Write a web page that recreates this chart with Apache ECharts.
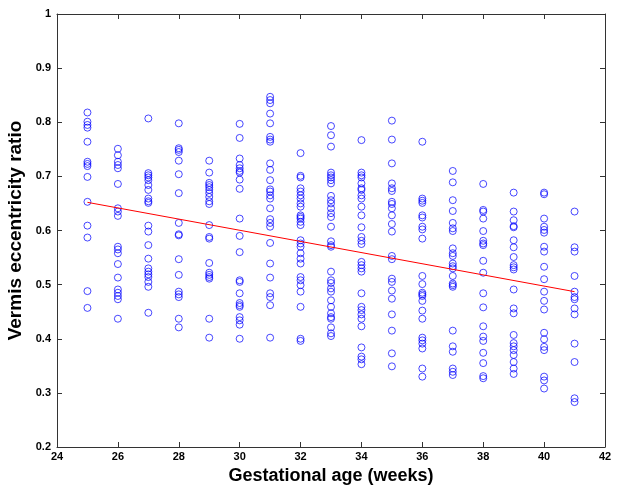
<!DOCTYPE html>
<html>
<head>
<meta charset="utf-8">
<script src="https://cdn.jsdelivr.net/npm/echarts@6/dist/echarts.min.js"></script>
<style>
  html, body { margin: 0; padding: 0; background: #fff; }
  #chart { width: 618px; height: 488px; }
</style>
</head>
<body>
<div id="chart"></div>
<script>
// gestational weeks (x) and the ratios
const weeks = [25, 26, 27, 28, 29, 30, 31, 32, 33, 34, 35, 36, 37, 38, 39, 40, 41];

const w25 = [0.818, 0.801, 0.795, 0.790, 0.764, 0.727, 0.723, 0.719, 0.699, 0.653, 0.609, 0.587, 0.488, 0.457];
const w26 = [0.751, 0.739, 0.727, 0.721, 0.715, 0.686, 0.641, 0.635, 0.627, 0.570, 0.565, 0.558, 0.538, 0.513, 0.491, 0.485, 0.479, 0.473, 0.437];
const w27 = [0.807, 0.706, 0.702, 0.698, 0.693, 0.684, 0.675, 0.659, 0.654, 0.651, 0.609, 0.598, 0.573, 0.548, 0.530, 0.524, 0.519, 0.514, 0.505, 0.496, 0.448];
const w28 = [0.798, 0.752, 0.749, 0.745, 0.729, 0.704, 0.669, 0.614, 0.593, 0.591, 0.547, 0.518, 0.487, 0.482, 0.477, 0.437, 0.421];
const w29 = [0.729, 0.707, 0.688, 0.684, 0.680, 0.675, 0.669, 0.662, 0.654, 0.649, 0.610, 0.588, 0.585, 0.540, 0.522, 0.518, 0.514, 0.511, 0.437, 0.402];
const w30 = [0.797, 0.771, 0.733, 0.721, 0.715, 0.710, 0.707, 0.694, 0.677, 0.622, 0.590, 0.560, 0.508, 0.505, 0.484, 0.466, 0.462, 0.459, 0.440, 0.434, 0.426, 0.400];
const w31 = [0.847, 0.841, 0.835, 0.816, 0.798, 0.773, 0.768, 0.764, 0.724, 0.712, 0.693, 0.676, 0.672, 0.665, 0.659, 0.641, 0.621, 0.614, 0.607, 0.577, 0.539, 0.513, 0.484, 0.477, 0.462, 0.402];
const w32 = [0.743, 0.701, 0.698, 0.678, 0.672, 0.665, 0.659, 0.650, 0.644, 0.628, 0.625, 0.622, 0.616, 0.610, 0.582, 0.576, 0.570, 0.558, 0.548, 0.539, 0.514, 0.508, 0.499, 0.487, 0.459, 0.400, 0.396];
const w33 = [0.793, 0.776, 0.755, 0.707, 0.702, 0.698, 0.693, 0.687, 0.664, 0.656, 0.650, 0.641, 0.632, 0.625, 0.607, 0.580, 0.573, 0.570, 0.524, 0.508, 0.503, 0.493, 0.487, 0.471, 0.459, 0.447, 0.440, 0.437, 0.421, 0.410, 0.405];
const w34 = [0.767, 0.707, 0.702, 0.698, 0.687, 0.678, 0.675, 0.665, 0.659, 0.644, 0.628, 0.606, 0.588, 0.581, 0.575, 0.542, 0.536, 0.530, 0.524, 0.484, 0.459, 0.453, 0.445, 0.437, 0.423, 0.384, 0.367, 0.362, 0.353];
const w35 = [0.803, 0.768, 0.724, 0.687, 0.678, 0.673, 0.653, 0.649, 0.641, 0.628, 0.612, 0.598, 0.553, 0.547, 0.511, 0.505, 0.489, 0.474, 0.445, 0.415, 0.373, 0.349];
const w36 = [0.764, 0.659, 0.655, 0.651, 0.628, 0.624, 0.607, 0.602, 0.585, 0.516, 0.501, 0.485, 0.482, 0.479, 0.470, 0.452, 0.437, 0.402, 0.397, 0.391, 0.382, 0.345, 0.330];
const w37 = [0.710, 0.689, 0.656, 0.636, 0.614, 0.604, 0.599, 0.567, 0.558, 0.553, 0.539, 0.534, 0.530, 0.516, 0.502, 0.499, 0.496, 0.415, 0.386, 0.376, 0.345, 0.339, 0.333];
const w38 = [0.686, 0.638, 0.635, 0.622, 0.599, 0.581, 0.576, 0.573, 0.544, 0.522, 0.484, 0.458, 0.423, 0.404, 0.396, 0.374, 0.355, 0.331, 0.327];
const w39 = [0.670, 0.635, 0.619, 0.608, 0.606, 0.582, 0.569, 0.551, 0.536, 0.532, 0.528, 0.491, 0.456, 0.447, 0.407, 0.392, 0.386, 0.379, 0.370, 0.357, 0.345, 0.335];
const w40 = [0.670, 0.667, 0.622, 0.607, 0.601, 0.596, 0.570, 0.561, 0.533, 0.510, 0.487, 0.470, 0.454, 0.411, 0.399, 0.385, 0.379, 0.330, 0.323, 0.308];
const w41 = [0.635, 0.569, 0.561, 0.516, 0.487, 0.477, 0.473, 0.456, 0.445, 0.391, 0.357, 0.290, 0.283];

const columns = [w25, w26, w27, w28, w29, w30, w31, w32, w33, w34, w35, w36, w37, w38, w39, w40, w41];

// regression line end points
const fitX = [25, 41];
const fitY = [0.652, 0.487];

let points = [];
for (let i = 0; i < weeks.length; i++) {
  for (let j = 0; j < columns[i].length; j++) {
    points.push([weeks[i], columns[i][j]]);
  }
}
let fitLine = [];
for (let i = 0; i < fitX.length; i++) {
  fitLine.push([fitX[i], fitY[i]]);
}

const chart = echarts.init(document.getElementById('chart'));

const tickFont = {
  fontFamily: 'Liberation Sans',
  fontWeight: 'bold',
  fontSize: 11,
  color: '#000'
};
const frameLine = { show: true, lineStyle: { color: '#333', width: 1 } };
const innerTick = { show: true, inside: true, length: 5, lineStyle: { color: '#333' } };

const option = {
  animation: false,
  backgroundColor: '#fff',
  grid: { left: 57, right: 13, top: 14, bottom: 41, outerBoundsMode: 'none' },
  xAxis: [
    {
      type: 'value',
      min: 24, max: 42, interval: 2,
      name: 'Gestational age (weeks)',
      nameLocation: 'middle',
      nameGap: 19,
      nameTextStyle: { fontFamily: 'Liberation Sans', fontSize: 18, fontWeight: 'bold', color: '#000' },
      axisLine: frameLine,
      axisTick: innerTick,
      axisLabel: Object.assign({ margin: 4 }, tickFont),
      splitLine: { show: false }
    },
    {
      type: 'value', position: 'top',
      min: 24, max: 42, interval: 2,
      axisLine: frameLine,
      axisTick: innerTick,
      axisLabel: { show: false },
      splitLine: { show: false }
    }
  ],
  yAxis: [
    {
      type: 'value',
      min: 0.2, max: 1, interval: 0.1,
      name: 'Vermis eccentricity ratio',
      nameLocation: 'middle',
      nameGap: 20,
      nameTextStyle: { fontFamily: 'Liberation Sans', fontSize: 19, fontWeight: 'bold', color: '#000' },
      axisLine: frameLine,
      axisTick: innerTick,
      axisLabel: Object.assign({ margin: 6 }, tickFont),
      splitLine: { show: false }
    },
    {
      type: 'value', position: 'right',
      min: 0.2, max: 1, interval: 0.1,
      axisLine: frameLine,
      axisTick: innerTick,
      axisLabel: { show: false },
      splitLine: { show: false }
    }
  ],
  series: [
    {
      type: 'scatter',
      data: points,
      symbol: 'circle',
      symbolSize: 7,
      itemStyle: { color: 'rgba(0,0,0,0)', borderColor: '#0000ff', borderWidth: 0.9 }
    },
    {
      type: 'line',
      data: fitLine,
      symbol: 'none',
      lineStyle: { color: '#ff0000', width: 1 }
    }
  ]
};

chart.setOption(option);
</script>
</body>
</html>
